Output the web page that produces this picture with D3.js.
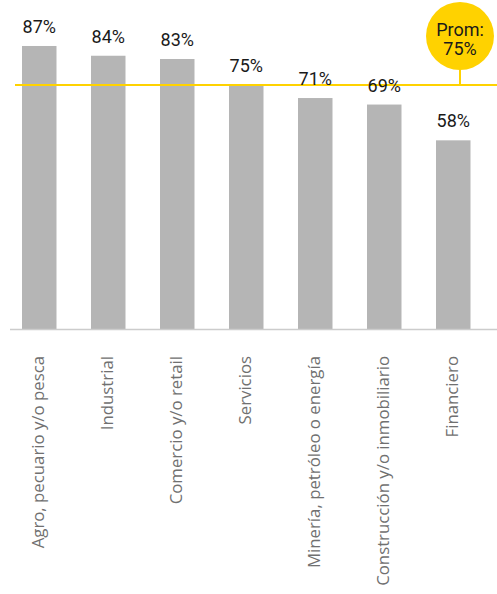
<!DOCTYPE html>
<html>
<head>
<meta charset="utf-8">
<script src="https://cdn.jsdelivr.net/npm/d3@7"></script>
<style>
  html, body { margin: 0; padding: 0; background: #fff; }
  svg { display: block; }
</style>
</head>
<body>
<div id="chart"></div>
<script>
(function() {

  'use strict'

  var sectors = ['Agro, pecuario y/o pesca', 'Industrial', 'Comercio y/o retail', 'Servicios',
    'Minería, petróleo o energía', 'Construcción y/o inmobiliario', 'Financiero'];
  var values = [87, 84, 83, 75, 71, 69, 58];
  var average = 75;
  var averageLabel = ['Prom:', '75%'];

  var width = 497, height = 594;
  var baseline = 329;
  var yellow = '#ffd200';

  var svg = d3.select('#chart').append('svg')
    .attr('width', width)
    .attr('height', height);

  var x = d3.scaleBand()
    .domain(sectors)
    .range([4.75, 487.75])
    .paddingInner(0.5)
    .paddingOuter(0.25);

  var y = d3.scaleLinear()
    .domain([0, 100])
    .range([baseline, 3.7]);

  // bars
  svg.append('g').selectAll('rect')
    .data(values)
    .enter().append('rect')
    .attr('x', function(d, i) { return x(sectors[i]); })
    .attr('y', function(d) { return y(d); })
    .attr('width', x.bandwidth())
    .attr('height', function(d) { return baseline - y(d); })
    .style('fill', '#b5b5b5');

  // baseline axis
  svg.append('line')
    .attr('x1', 10)
    .attr('x2', width)
    .attr('y1', baseline + 0.5)
    .attr('y2', baseline + 0.5)
    .attr('stroke', '#cccccc')
    .attr('stroke-width', 1.5);

  // average line
  svg.append('line')
    .attr('x1', 15)
    .attr('x2', width)
    .attr('y1', y(average))
    .attr('y2', y(average))
    .attr('stroke', yellow)
    .attr('stroke-width', 2);

  // value labels
  svg.append('g').selectAll('text')
    .data(values)
    .enter().append('text')
    .attr('x', function(d, i) { return x(sectors[i]) + x.bandwidth() / 2; })
    .attr('y', function(d) { return y(d) - 13; })
    .attr('text-anchor', 'middle')
    .attr('font-family', 'Roboto, sans-serif')
    .attr('font-size', '18px')
    .style('fill', '#1a1a1a')
    .text(function(d) { return d + '%'; });

  // category labels
  svg.append('g').selectAll('text')
    .data(sectors)
    .enter().append('text')
    .attr('transform', function(d) {
      return 'translate(' + (x(d) + x.bandwidth() / 2) + ',356) rotate(-90)';
    })
    .attr('dy', '0.3em')
    .attr('text-anchor', 'end')
    .attr('font-family', '\'Open Sans\', sans-serif')
    .attr('font-size', '16.8px')
    .style('fill', '#707070')
    .text(String);

  // average badge
  var cx = 460, cy = 36, r = 34;
  svg.append('line')
    .attr('x1', cx)
    .attr('x2', cx)
    .attr('y1', cy + r - 1)
    .attr('y2', y(average))
    .attr('stroke', yellow)
    .attr('stroke-width', 2);

  svg.append('circle')
    .attr('cx', cx)
    .attr('cy', cy)
    .attr('r', r)
    .style('fill', yellow);

  svg.append('g').selectAll('text')
    .data(averageLabel)
    .enter().append('text')
    .attr('x', cx)
    .attr('y', function(d, i) { return 36 + i * 19; })
    .attr('text-anchor', 'middle')
    .attr('font-family', 'Roboto, sans-serif')
    .attr('font-size', '18px')
    .style('fill', '#1a1a1a')
    .text(String);

})();
</script>
</body>
</html>
